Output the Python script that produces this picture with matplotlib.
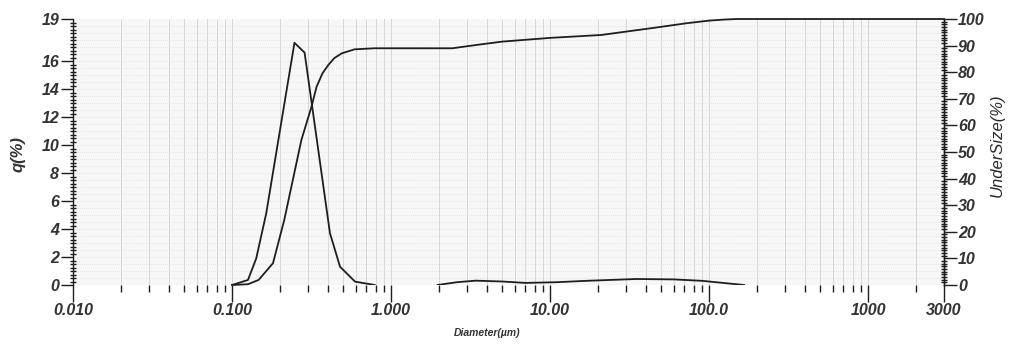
"""Particle size distribution: frequency q(%) and cumulative undersize vs diameter."""
import matplotlib
matplotlib.use("Agg")
import matplotlib.pyplot as plt
import numpy as np
from matplotlib.ticker import FixedLocator, MultipleLocator

plt.rcParams["font.family"] = ["Liberation Sans", "DejaVu Sans"]

INK = "#1e1e1e"

# frequency curve, main peak and the small coarse tail (two separate runs)
q_d1 = [0.100, 0.126, 0.142, 0.164, 0.247, 0.286, 0.413, 0.478, 0.594, 0.79]
q_v1 = [0.0, 0.36, 1.9, 5.1, 17.3, 16.6, 3.7, 1.3, 0.24, 0.0]
q_d2 = [1.96, 2.6, 3.4, 5.0, 7.0, 11.0, 17.0, 35.0, 60.0, 90.0, 130.0, 166.0]
q_v2 = [0.0, 0.2, 0.31, 0.25, 0.15, 0.2, 0.3, 0.43, 0.4, 0.3, 0.12, 0.0]

# cumulative undersize
cum_d = [0.100, 0.126, 0.147, 0.181, 0.213, 0.273, 0.316, 0.340, 0.37, 0.403,
         0.44, 0.49, 0.59, 0.79, 2.43, 3.5, 5.0, 10.0, 21.0, 44.0, 72.0, 100.0,
         125.0, 150.0, 3000.0]
cum_v = [0.0, 0.3, 1.9, 8.2, 24.4, 54.5, 67.0, 74.5, 79.5, 82.7,
         85.3, 87.1, 88.6, 89.0, 89.0, 90.3, 91.5, 92.9, 94.0, 96.6, 98.4, 99.4,
         99.8, 100.0, 100.0]

x_ticks = [0.01, 0.1, 1, 10, 100, 1000, 3000]
x_labels = ["0.010", "0.100", "1.000", "10.00", "100.0", "1000", "3000"]
x_minor = [m * 10.0 ** e for e in range(-2, 3) for m in range(2, 10)] + [2000]
q_ticks = [0, 2, 4, 6, 8, 10, 12, 14, 16, 19]
u_ticks = list(range(0, 101, 10))

fig = plt.figure(figsize=(10.11, 3.5), dpi=100, facecolor="white")
ax = fig.add_axes([0.0722, 0.1857, 0.8615, 0.76])
ax.set_facecolor("#f7f7f7")
ax.set_xscale("log")
ax.set_xlim(0.01, 3000)
ax.set_ylim(0, 19)

# textured grid of the instrument printout
for xv in x_minor + x_ticks:
    ax.axvline(xv, color="#d6d6d6", lw=0.7, zorder=0)
for yv in np.arange(0.5, 19, 0.5):
    ax.axhline(yv, color="#e0e0e0", lw=0.6, ls=(0, (1, 1.5)), zorder=0)

ax.plot(q_d1, q_v1, color=INK, lw=1.3, zorder=3)
ax.plot(q_d2, q_v2, color=INK, lw=1.3, zorder=3)

ax2 = ax.twinx()
ax2.set_ylim(0, 100)
ax2.plot(cum_d, cum_v, color=INK, lw=1.3, zorder=3, clip_on=False)

for a in (ax, ax2):
    a.spines["top"].set_visible(False)
    a.spines["bottom"].set_visible(False)
    a.spines["left"].set_color(INK)
    a.spines["right"].set_color(INK)
    a.spines["left"].set_linewidth(1.0)
    a.spines["right"].set_linewidth(1.0)
ax2.spines["left"].set_visible(False)
ax.axhline(0, color="#777777", lw=0.8, ls=(0, (1, 3)), zorder=1)

ax.xaxis.set_major_locator(FixedLocator(x_ticks))
ax.xaxis.set_minor_locator(FixedLocator(x_minor))
ax.set_xticklabels(x_labels)
ax.tick_params(axis="x", which="major", length=12, width=1.0, color=INK,
               labelsize=11.5, pad=1)
ax.tick_params(axis="x", which="minor", length=5, width=1.0, color=INK)

ax.yaxis.set_major_locator(FixedLocator(q_ticks))
ax.yaxis.set_minor_locator(MultipleLocator(0.25))
ax.tick_params(axis="y", which="major", length=9, width=1.0, color=INK,
               labelsize=11.5, pad=1)
ax.tick_params(axis="y", which="minor", length=5, width=1.0, color=INK,
               direction="inout")

ax2.yaxis.set_major_locator(FixedLocator(u_ticks))
ax2.yaxis.set_minor_locator(MultipleLocator(1))
ax2.tick_params(axis="y", which="major", length=9, width=1.0, color=INK,
                labelsize=11.5, pad=1)
ax2.tick_params(axis="y", which="minor", length=5, width=1.0, color=INK,
                direction="inout")

for lab in ax.get_xticklabels() + ax.get_yticklabels() + ax2.get_yticklabels():
    lab.set_fontstyle("italic")
    lab.set_fontweight("bold")
    lab.set_color("#333333")

fig.text(0.018, 0.56, "q(%)", rotation=90, ha="center", va="center",
         fontsize=12, style="italic", weight="bold", color="#333333")
fig.text(0.986, 0.585, "UnderSize(%)", rotation=90, ha="center", va="center",
         fontsize=12, style="italic", color="#2a2a2a")
fig.text(0.482, 0.05, "Diameter(µm)", ha="center", va="center",
         fontsize=7.5, style="italic", weight="bold", color="#333333")

fig.savefig("out.png", dpi=100, facecolor="white")
